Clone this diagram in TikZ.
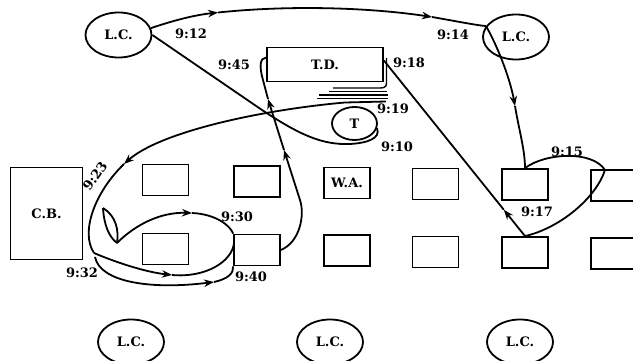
\documentclass[tikz,border=0pt]{standalone}
\usepackage{fontspec}
\setmainfont{DejaVu Serif}
\usetikzlibrary{arrows.meta,shapes.geometric,calc}
\begin{document}
\begin{tikzpicture}[x=1pt,y=-1pt,
  line width=1.8pt,
  every node/.style={font=\fontsize{13}{15}\selectfont\bfseries},
  lc/.style={draw,ellipse,minimum width=66pt,minimum height=45pt,inner sep=0pt},
  desk/.style={draw,rectangle,minimum width=46pt,minimum height=31pt,inner sep=0pt},
  tl/.style={inner sep=0pt},
  arr/.style={-{Stealth[length=10pt,width=7.5pt]}},
]
\useasboundingbox (0,0) rectangle (633,361);

% nodes
\node[lc] (lcA) at (118.5,35) {L.C.};
\node[lc] (lcB) at (516,37) {L.C.};
\node[lc] (lcC) at (131,342) {L.C.};
\node[lc] (lcD) at (330,342) {L.C.};
\node[lc] (lcE) at (520,342) {L.C.};
\node[draw,minimum width=116pt,minimum height=34pt,inner sep=0pt] (td) at (325,64.5) {T.D.};
\node[draw,ellipse,minimum width=45pt,minimum height=33pt,inner sep=0pt] (t) at (354.5,123.5) {T};
\node[draw,minimum width=72pt,minimum height=92pt,inner sep=0pt] (cb) at (46.5,213.5) {C.B.};

\node[desk] (d1t) at (165.5,180) {};
\node[desk] (d2t) at (257,181.5) {};
\node[desk] (d3t) at (347,183) {W.A.};
\node[desk] (d4t) at (435.5,184) {};
\node[desk] (d5t) at (525,184.5) {};
\node[desk] (d6t) at (614,185.5) {};
\node[desk] (d1b) at (165.5,249) {};
\node[desk] (d2b) at (257,250) {};
\node[desk] (d3b) at (347,250.5) {};
\node[desk] (d4b) at (435.5,252) {};
\node[desk] (d5b) at (525,252.5) {};
\node[desk] (d6b) at (614,253.5) {};

\coordinate (c15) at (605,170);
\coordinate (tdR) at ($(td.east)+(0,-4)$);
\coordinate (J) at (94,253);
\coordinate (J2) at (95,257);
\coordinate (tip) at (103,208);
\coordinate (hb) at (117,243);

% 9:10 -> 9:12
\draw (t.-12) .. controls (381,138) and (368,143) .. (350,144)
      .. controls (322,145) and (300,135) .. (262,110) -- (lcA.east);
% 9:12 -> 9:14
\draw[arr] (lcA.12) .. controls (175,20) and (195,15) .. (218,12.5);
\draw[arr] (218,12.5) .. controls (300,4) and (380,9) .. (432,17);
\draw (432,17) .. controls (455,21) and (475,25) .. (lcB.160);
% 9:14 -> desk
\draw[arr] (lcB.160) .. controls (497,45) and (510,78) .. (515,106);
\draw (515,106) .. controls (519,130) and (525,150) .. (d5t.north);
% 9:15, 9:17
\draw (d5t.north) .. controls (545,153) and (592,150) .. (c15);
\draw (c15) .. controls (596,198) and (560,228) .. (d5b.north);
% 9:18
\draw[arr] (d5b.north) -- ($(d5b.north)!0.15!(tdR)$);
\draw ($(d5b.north)!0.15!(tdR)$) -- (tdR);
% stack under T.D.
\draw[line width=1.4pt] (386.5,58) -- (386.5,83) .. controls (386.5,87) and (384,88) .. (380,88) -- (333,88);
\draw[line width=1.4pt] (329,91.5) -- (387,91.5);
\draw[line width=1.4pt] (319,95) -- (388,95);
\draw[line width=1.4pt] (317,98.5) -- (388,98.5);
% 9:19 -> 9:23
\draw[arr] (386,101.5) -- (345,102.5) .. controls (260,110) and (160,132) .. (124,164);
\draw (124,164) .. controls (95,192) and (80,232) .. (J);
% crescent and 9:30
\draw (tip) .. controls (104,225) and (109,237) .. (hb);
\draw (tip) .. controls (116,216) and (119,230) .. (hb);
\draw[arr] (hb) .. controls (135,225) and (160,212) .. (192,213);
\draw (192,213) .. controls (215,214) and (230,225) .. (d2b.north west);
% 9:32
\draw[arr] (J) .. controls (115,262) and (145,272) .. (172,275);
\draw (172,275) .. controls (205,278) and (232,262) .. (234,243);
% 9:40
\draw[arr] (J2) .. controls (100,282) and (150,290) .. (214,282);
\draw (214,282) .. controls (228,279) and (234,273) .. (d2b.south west);
% 9:45
\draw[arr] (d2b.east) .. controls (300,242) and (305,215) .. (300,200) -- (284,150);
\draw[arr] (284,150) -- (268,99);
\draw (268,99) -- (263,80) .. controls (259,66) and (260,58) .. ($(td.west)+(0,-7)$);

% time labels
\node[tl] (l912) at (191,34) {9:12};
\node[tl] (l914) at (453,35) {9:14};
\node[tl] (l945) at (234,65) {9:45};
\node[tl] (l918) at (409,63) {9:18};
\node[tl] (l919) at (393,109) {9:19};
\node[tl] (l910) at (397,147) {9:10};
\node[tl] (l915) at (567,152) {9:15};
\node[tl] (l917) at (537,212) {9:17};
\node[tl,rotate=55] (l923) at (95,176) {9:23};
\node[tl] (l930) at (237,217) {9:30};
\node[tl] (l932) at (82,273) {9:32};
\node[tl] (l940) at (251,277) {9:40};
\end{tikzpicture}
\end{document}
